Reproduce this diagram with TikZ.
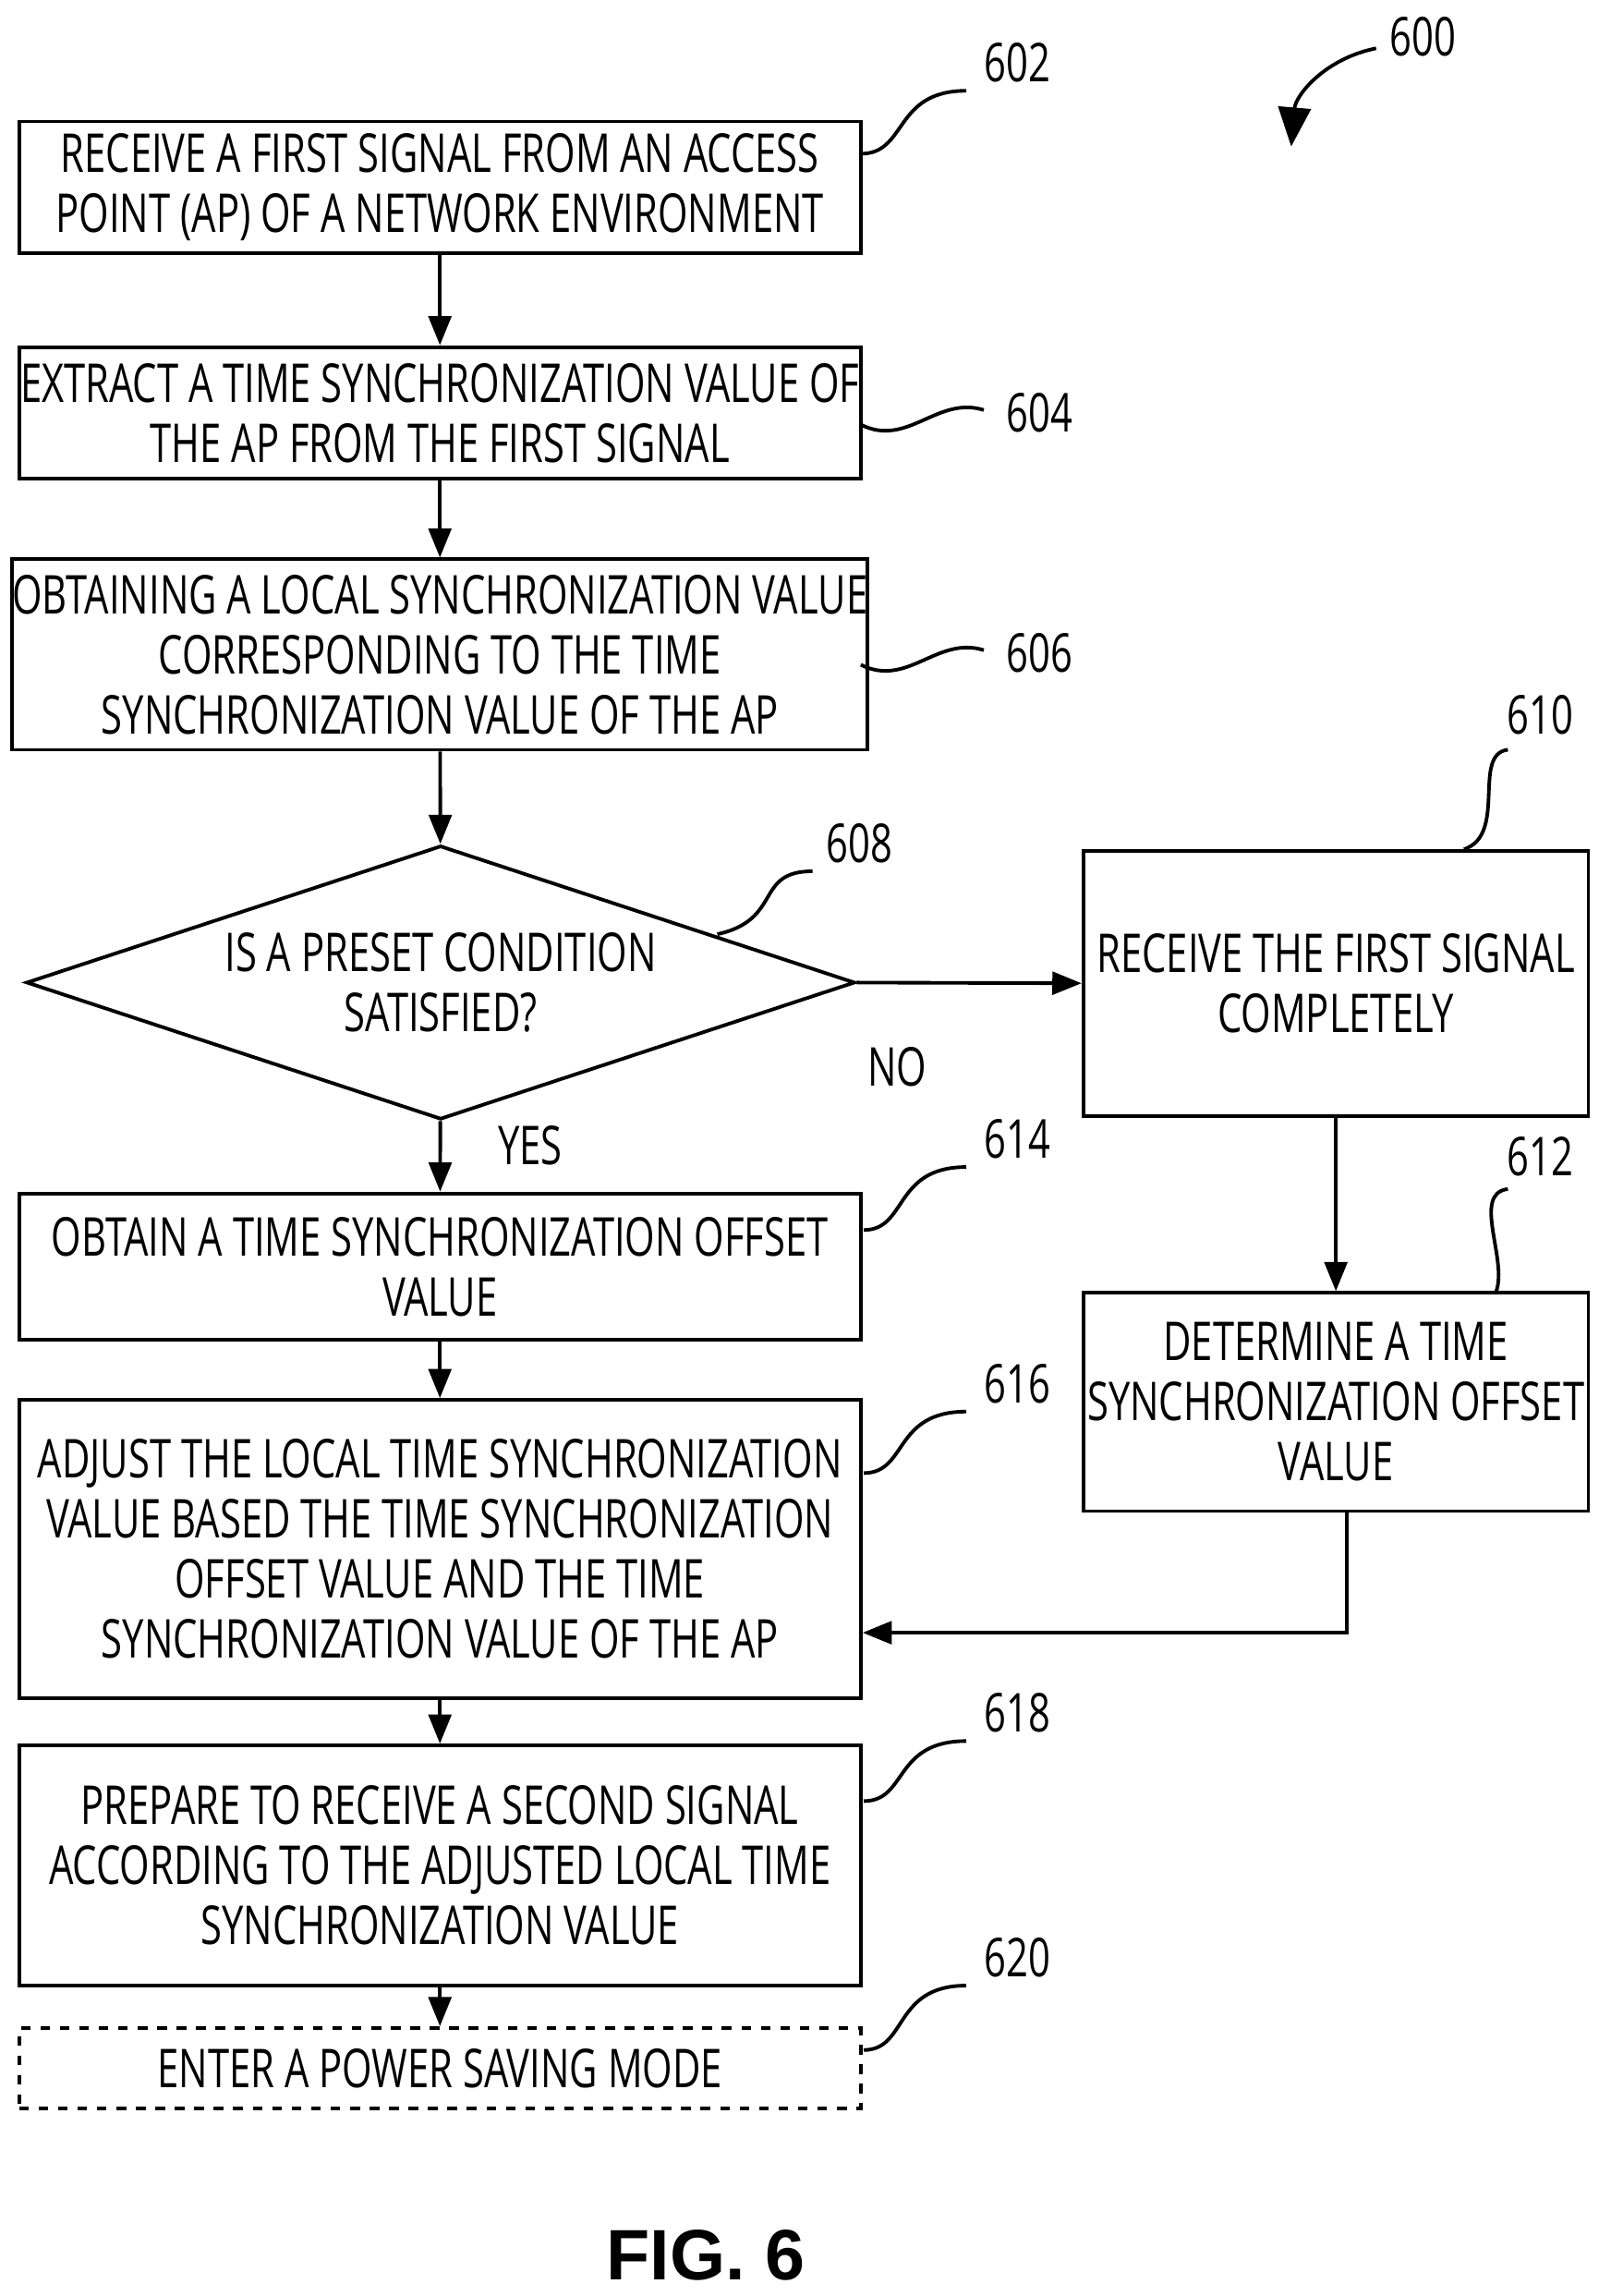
\documentclass[tikz,border=0pt]{standalone}
\usepackage{fontspec}
\setmainfont[FakeStretch=0.72]{Open Sans}
\newfontfamily\figfont{Liberation Sans}
\usetikzlibrary{positioning,shapes.geometric,arrows.meta}
\begin{document}
\begin{tikzpicture}[x=0.01585cm,y=-0.01585cm,
    every node/.style={font=\fontsize{16.5}{18.5}\selectfont},
    box/.style={draw,line width=1.1pt,align=center,inner sep=0pt},
    flow/.style={-{Triangle[length=9pt,width=7pt]},line width=1.1pt},
    lead/.style={line width=1.1pt},
    ref/.style={inner sep=1pt}]
    \useasboundingbox (0,0) rectangle (1100,1568);

    % process boxes
    \node[box,minimum width=575*0.01585cm,minimum height=90*0.01585cm] (s602) at (300.5,128) {RECEIVE A FIRST SIGNAL FROM AN ACCESS\\POINT (AP) OF A NETWORK ENVIRONMENT};
    \node[box,minimum width=575*0.01585cm,minimum height=90*0.01585cm] (s604) at (300.5,282) {EXTRACT A TIME SYNCHRONIZATION VALUE OF\\THE AP FROM THE FIRST SIGNAL};
    \node[box,minimum width=575*0.01585cm,minimum height=130*0.01585cm] (s606) at (300.5,447) {OBTAINING A LOCAL SYNCHRONIZATION VALUE\\CORRESPONDING TO THE TIME\\SYNCHRONIZATION VALUE OF THE AP};
    \node[diamond,draw,line width=1.1pt,aspect=3.03,minimum width=566*0.01585cm,minimum height=187*0.01585cm,inner sep=0pt,align=center] (s608) at (301,671) {IS A PRESET CONDITION\\SATISFIED?};
    \node[box,minimum width=345*0.01585cm,minimum height=181*0.01585cm] (s610) at (912.5,671.5) {RECEIVE THE FIRST SIGNAL\\COMPLETELY};
    \node[box,minimum width=345*0.01585cm,minimum height=149*0.01585cm] (s612) at (912.5,957.5) {DETERMINE A TIME\\SYNCHRONIZATION OFFSET\\VALUE};
    \node[box,minimum width=575*0.01585cm,minimum height=100*0.01585cm] (s614) at (300.5,865) {OBTAIN A TIME SYNCHRONIZATION OFFSET\\VALUE};
    \node[box,minimum width=575*0.01585cm,minimum height=204*0.01585cm] (s616) at (300.5,1058) {ADJUST THE LOCAL TIME SYNCHRONIZATION\\VALUE BASED THE TIME SYNCHRONIZATION\\OFFSET VALUE AND THE TIME\\SYNCHRONIZATION VALUE OF THE AP};
    \node[box,minimum width=575*0.01585cm,minimum height=164*0.01585cm] (s618) at (300.5,1274) {PREPARE TO RECEIVE A SECOND SIGNAL\\ACCORDING TO THE ADJUSTED LOCAL TIME\\SYNCHRONIZATION VALUE};
    \node[box,dashed,minimum width=575*0.01585cm,minimum height=55*0.01585cm] (s620) at (300.5,1412.5) {ENTER A POWER SAVING MODE};

    % flow
    \draw[flow] (s602) -- (s604);
    \draw[flow] (s604) -- (s606);
    \draw[flow] (s606) -- (s608);
    \draw[flow] (s608) -- (s614) node[pos=0.35,right=14pt] (yes) {YES};
    \draw[flow] (s608.east) -- (s610.west) node[pos=0.18,below=16pt] (no) {NO};
    \draw[flow] (s610) -- (s612);
    \coordinate (bend) at (920,1115);
    \draw[flow] (s612.south -| bend) -- (bend) -- (bend -| s616.east);
    \draw[flow] (s614) -- (s616);
    \draw[flow] (s616) -- (s618);
    \draw[flow] (s618) -- (s620);

    % reference numerals
    \node[ref] (n600) at (972,25) {600};
    \node[ref] (n602) at (695,43) {602};
    \node[ref] (n604) at (710,282) {604};
    \node[ref] (n606) at (710,446) {606};
    \node[ref] (n608) at (587,576) {608};
    \node[ref] (n610) at (1052,488) {610};
    \node[ref] (n612) at (1052,790) {612};
    \node[ref] (n614) at (695,778) {614};
    \node[ref] (n616) at (695,945) {616};
    \node[ref] (n618) at (695,1170) {618};
    \node[ref] (n620) at (695,1337) {620};

    % leaders
    \draw[lead] (588,105) .. controls (620,105) and (610,62) .. (660,62);
    \draw[lead] (588,290) .. controls (620,306) and (640,270) .. (672,280);
    \draw[lead] (588,454) .. controls (620,470) and (640,434) .. (672,444);
    \draw[lead] (490,638) .. controls (535,628) and (515,595) .. (555,595);
    \draw[lead] (1000,580) .. controls (1030,570) and (1005,515) .. (1030,512);
    \draw[lead] (1022,882) .. controls (1030,860) and (1005,815) .. (1030,812);
    \draw[lead] (590,840) .. controls (620,840) and (610,797) .. (660,797);
    \draw[lead] (590,1006) .. controls (620,1006) and (610,964) .. (660,964);
    \draw[lead] (590,1230) .. controls (620,1230) and (610,1189) .. (660,1189);
    \draw[lead] (590,1400) .. controls (620,1400) and (610,1356) .. (660,1356);
    \draw[lead,-{Triangle[length=12pt,width=10pt]}] (940,33) .. controls (905,40) and (885,65) .. (882,100);

    \node[font=\figfont\bfseries\fontsize{22}{24}\selectfont] (fig) at (482,1540) {FIG. 6};
\end{tikzpicture}
\end{document}
